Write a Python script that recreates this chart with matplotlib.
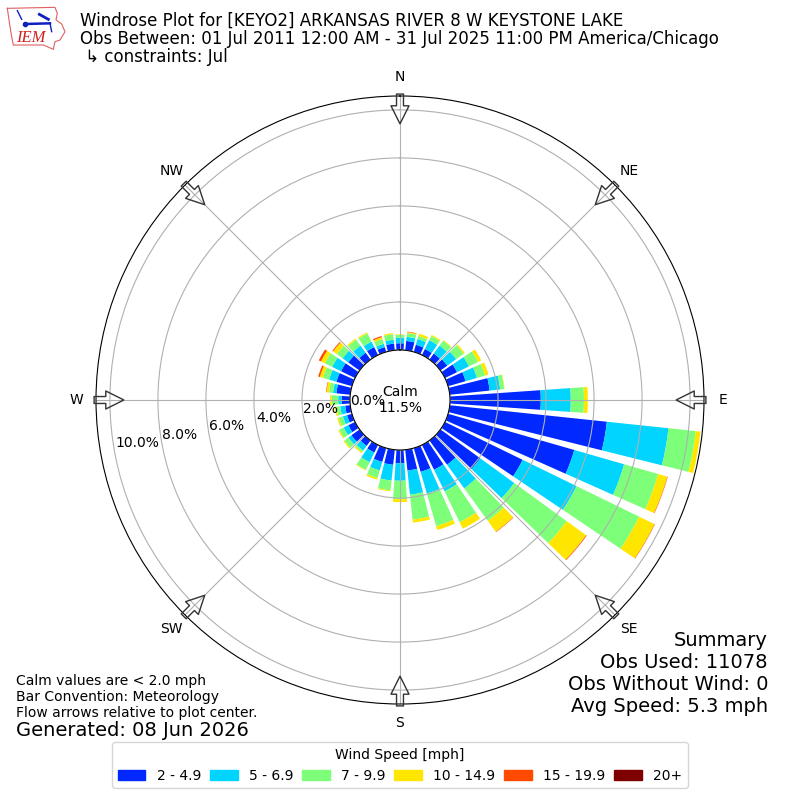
"""
Windrose plot for KEYO2, July observations
"""

import matplotlib
matplotlib.use("Agg")
import matplotlib.pyplot as plt
import numpy as np
from matplotlib.patches import Patch

directions = np.arange(0, 360, 10)

# percent of obs per direction, one list per speed bin
speed_2_5 = [0.28, 0.39, 0.31, 0.28, 0.31, 0.35, 0.56, 0.76, 1.67, 3.78, 6.58, 5.47,
             3.60, 2.05, 1.25, 1.15, 1.03, 0.87, 0.55, 0.63, 0.60, 0.35, 0.28, 0.42,
             0.31, 0.21, 0.21, 0.35, 0.58, 0.67, 0.65, 0.58, 0.35, 0.37, 0.21, 0.28]
speed_5_7 = [0.23, 0.17, 0.25, 0.41, 0.41, 0.46, 0.55, 0.49, 0.44, 1.25, 2.58, 2.16,
             2.50, 1.75, 1.22, 1.00, 0.94, 1.01, 0.73, 0.66, 0.37, 0.45, 0.24, 0.16,
             0.22, 0.18, 0.21, 0.14, 0.14, 0.32, 0.41, 0.29, 0.37, 0.25, 0.14, 0.16]
speed_7_10 = [0.12, 0.16, 0.13, 0.19, 0.25, 0.38, 0.42, 0.35, 0.17, 0.55, 1.14, 1.47,
              2.90, 2.70, 1.67, 1.43, 1.41, 1.04, 0.77, 0.41, 0.33, 0.35, 0.08, 0.20,
              0.20, 0.19, 0.16, 0.27, 0.17, 0.26, 0.34, 0.30, 0.31, 0.38, 0.21, 0.23]
speed_10_15 = [0.02, 0.04, 0.10, 0.05, 0.03, 0.06, 0.15, 0.15, 0.02, 0.16, 0.20, 0.40,
               0.71, 1.00, 0.56, 0.30, 0.17, 0.13, 0.12, 0.04, 0.07, 0.03, 0.05, 0.05,
               0.05, 0.06, 0.07, 0.07, 0.11, 0.14, 0.18, 0.19, 0.05, 0.05, 0.08, 0.05]
speed_15_20 = [0.00, 0.02, 0.00, 0.00, 0.00, 0.00, 0.00, 0.00, 0.00, 0.00, 0.00, 0.02,
               0.02, 0.03, 0.02, 0.00, 0.00, 0.00, 0.00, 0.00, 0.00, 0.00, 0.00, 0.00,
               0.00, 0.00, 0.00, 0.00, 0.02, 0.07, 0.10, 0.04, 0.00, 0.00, 0.05, 0.00]
speed_20 = [0.0] * 36

speed_bins = [speed_2_5, speed_5_7, speed_7_10, speed_10_15, speed_15_20, speed_20]
bin_labels = ["2 - 4.9", "5 - 6.9", "7 - 9.9", "10 - 14.9", "15 - 19.9", "20+"]
bin_colors = ["#0028ff", "#00d4ff", "#7dff7a", "#ffe600", "#ff4a00", "#7f0000"]

r_ticks = [0, 2, 4, 6, 8, 10]
r_tick_labels = ["0.0%", "2.0%", "4.0%", "6.0%", "8.0%", "10.0%"]
compass = ["N", "NE", "E", "SE", "S", "SW", "W", "NW"]

fig = plt.figure(figsize=(8, 8), dpi=100)
ax = fig.add_axes([96 / 800, 96 / 800, 608 / 800, 608 / 800], projection="polar")
ax.set_theta_zero_location("N")
ax.set_theta_direction(-1)

# stacked bars, 8 deg wide
theta = np.radians(directions)
bottom = np.zeros(36)
for vals, color in zip(speed_bins, bin_colors):
    ax.bar(theta, vals, width=np.radians(8), bottom=bottom, color=color, linewidth=0)
    bottom = bottom + np.array(vals)

ax.set_rorigin(-50 / 24)
ax.set_rlim(0, 10.58)
ax.set_yticks(r_ticks)
ax.set_yticklabels([])
ax.set_xticks(np.radians(np.arange(0, 360, 45)))
ax.set_xticklabels(compass, fontsize=10)
ax.tick_params(axis="x", pad=3.5)
ax.grid(True, color="#b0b0b0", linewidth=0.8)

# radial labels run along a line starting at the inner circle
for r, label in zip(r_ticks, r_tick_labels):
    px = 50 + r * 23.5
    fig.text((400 - px) / 800, 1 - (400 + r * 4.2 + 1) / 800, label, fontsize=10,
             ha="left", va="center")

# flow arrows around the edge
for deg in np.arange(0, 360, 45):
    ax.annotate("", xy=(np.radians(deg), 9.42), xytext=(np.radians(deg), 10.66),
                annotation_clip=False,
                arrowprops=dict(facecolor="none", edgecolor="#333333", linewidth=1.0,
                                width=5, headwidth=13, headlength=13, shrink=0))

fig.text(0.5, 1 - 400 / 800, "Calm\n11.5%", fontsize=10, ha="center", va="center")

fig.text(80 / 800, 1 - 12 / 800,
         "Windrose Plot for [KEYO2] ARKANSAS RIVER 8 W KEYSTONE LAKE\n"
         "Obs Between: 01 Jul 2011 12:00 AM - 31 Jul 2025 11:00 PM America/Chicago\n"
         " \u21b3 constraints: Jul",
         fontsize=12, va="top", ha="left", linespacing=1.0)

fig.text(768 / 800, 1 - 716 / 800,
         "Summary\nObs Used: 11078\nObs Without Wind: 0\nAvg Speed: 5.3 mph",
         fontsize=14, ha="right", va="bottom")
fig.text(16 / 800, 1 - 720 / 800,
         "Calm values are < 2.0 mph\nBar Convention: Meteorology\n"
         "Flow arrows relative to plot center.",
         fontsize=10, ha="left", va="bottom")
fig.text(16 / 800, 1 - 730 / 800, "Generated: 08 Jun 2026", fontsize=14, ha="left", va="center")

handles = [Patch(color=c, label=l) for c, l in zip(bin_colors, bin_labels)]
fig.legend(handles=handles, title="Wind Speed [mph]", ncol=6, loc="lower center",
           bbox_to_anchor=(0.5, 1 - 795 / 800), fontsize=10, title_fontsize=10,
           columnspacing=0.64)

# little IEM logo, top left
logo = fig.add_axes([0, 1 - 55 / 800, 67 / 800, 55 / 800])
logo.set_xlim(0, 201)
logo.set_ylim(165, 0)
logo.axis("off")
outline_x = [22, 165, 172, 168, 185, 195, 180, 165, 160, 130, 40, 35, 30, 22]
outline_y = [25, 22, 40, 60, 72, 95, 120, 125, 148, 135, 135, 110, 80, 25]
logo.plot(outline_x, outline_y, color="#e06060", linewidth=0.8)
logo.plot([75, 150], [72, 70], color="#1020c0", linewidth=1.8)
logo.plot([52, 65], [32, 58], color="#1020c0", linewidth=1.0)
logo.plot([118, 145], [43, 58], color="#1020c0", linewidth=2.0)
logo.plot([150, 155], [70, 95], color="#1020c0", linewidth=1.0)
logo.plot([75], [72], "o", color="#1020c0", markersize=3)
logo.text(92, 115, "IEM", color="#d02020", fontsize=12, style="italic",
          family="Liberation Serif", ha="center", va="center")

fig.savefig("out.png", dpi=100)
